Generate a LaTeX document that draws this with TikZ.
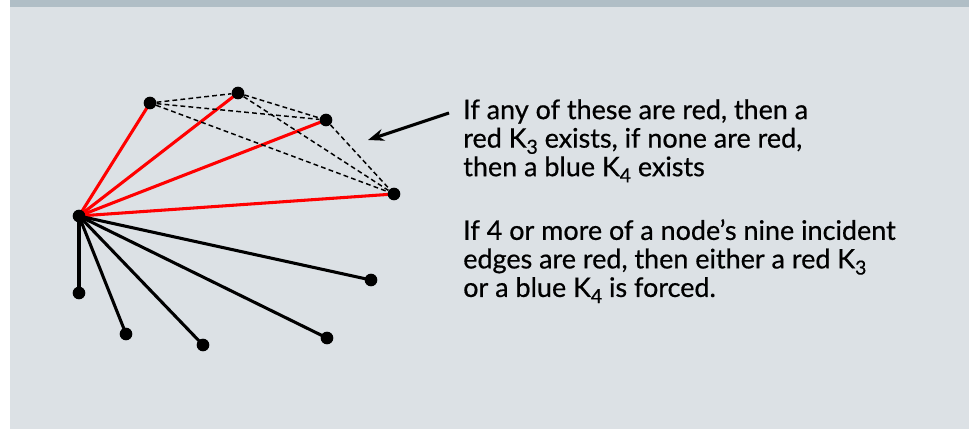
\documentclass[tikz,border=0pt]{standalone}
\usepackage{fontspec}
\setmainfont{Lato}
\newfontfamily\notefont{Lato}[FakeBold=0.6]
\usetikzlibrary{arrows.meta,backgrounds}
\definecolor{panel}{HTML}{DCE1E5}
\definecolor{topbar}{HTML}{B0BEC6}
\definecolor{edgered}{HTML}{FF0000}
\tikzset{
  dot/.style={circle,fill=black,inner sep=0pt,minimum size=9.5pt},
  rededge/.style={draw=edgered,line width=2.3pt},
  blackedge/.style={draw=black,line width=2.3pt},
  dashededge/.style={draw=black,line width=1.1pt,dash pattern=on 3.6pt off 2.4pt},
  note/.style={anchor=north west,inner sep=0pt,align=left,font=\notefont\fontsize{20.2}{21.4}\selectfont}
}
\newcommand{\mysub}[1]{\smash{\raisebox{-0.45ex}{\fontsize{14.5}{14.5}\selectfont #1}}}
\begin{document}
\begin{tikzpicture}[x=0.75pt,y=-0.75pt]
\useasboundingbox (0,0) rectangle (969,429);
% nodes
\node[dot] (h) at (79,216) {};
\node[dot] (r1) at (150,103) {};
\node[dot] (r2) at (238,93) {};
\node[dot] (r3) at (326,120) {};
\node[dot] (r4) at (394,194) {};
\node[dot] (b1) at (79,293) {};
\node[dot] (b2) at (126,334) {};
\node[dot] (b3) at (203,345) {};
\node[dot] (b4) at (327,338) {};
\node[dot] (b5) at (371,280) {};
\begin{scope}[on background layer]
\fill[white] (0,0) rectangle (969,429);
\fill[panel] (10,0) rectangle (969,429);
\fill[topbar] (10,0) rectangle (969,7);
\foreach \r in {r1,r2,r3,r4} \draw[rededge] (h.center) -- (\r.center);
\foreach \b in {b1,b2,b3,b4,b5} \draw[blackedge] (h.center) -- (\b.center);
\end{scope}
\draw[dashededge] (r1) -- (r2);
\draw[dashededge] (r1) -- (r3);
\draw[dashededge] (r1) -- (r4);
\draw[dashededge] (r2) -- (r3);
\draw[dashededge] (r2) -- (r4);
\draw[dashededge] (r3) -- (r4);
% text
\node[note] (t1) at (463,99) {If any of these are red, then a\\red K\mysub{3} exists, if none are red,\\then a blue K\mysub{4} exists};
\node[note] (t2) at (463,219) {If 4 or more of a node’s nine incident\\edges are red, then either a red K\mysub{3}\\or a blue K\mysub{4} is forced.};
\coordinate (as) at (449,113);
\coordinate (ae) at (368,140);
\draw[line width=2.3pt,-{Stealth[length=12pt,width=9pt]}] (as) -- (ae);
\end{tikzpicture}
\end{document}
